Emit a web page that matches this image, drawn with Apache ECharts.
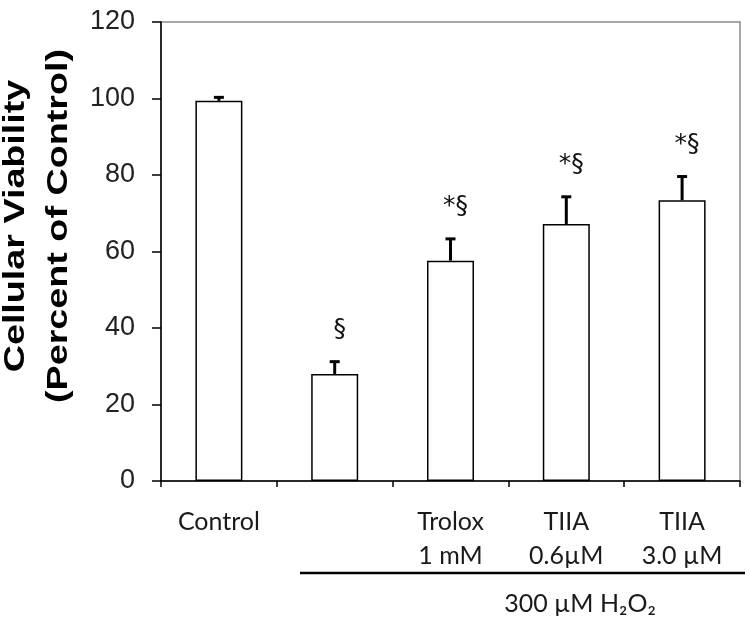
<!DOCTYPE html>
<html>
<head>
<meta charset="utf-8">
<script src="https://cdn.jsdelivr.net/npm/echarts@6/dist/echarts.min.js"></script>
<style>
  html, body { margin: 0; padding: 0; background: #fff; }
  #chart { width: 750px; height: 624px; }
</style>
</head>
<body>
<div id="chart"></div>
<script>
// dati
const categories = ['Control', '', 'Trolox\n1 mM', 'TIIA\n0.6µM', 'TIIA\n3.0 µM'];
const viability = [99.4, 28.0, 57.6, 67.2, 73.4];
const sem = [0.9, 3.2, 5.7, 7.1, 6.2];
const marks = ['', '§', '*§', '*§', '*§'];
const yMin = 0;
const yMax = 120;
const yStep = 20;

const chart = echarts.init(document.getElementById('chart'));

// barra d'errore (solo verso l'alto) + simbolo di significatività
function renderErr(params, api) {
  const i = params.dataIndex;
  const base = api.coord([i, viability[i]]);
  const top = api.coord([i, viability[i] + sem[i]]);
  const cap = 5;
  return {
    type: 'group',
    children: [
      { type: 'line', shape: { x1: base[0], y1: base[1], x2: top[0], y2: top[1] }, style: { stroke: '#000', lineWidth: 3 } },
      { type: 'line', shape: { x1: top[0] - cap, y1: top[1], x2: top[0] + cap, y2: top[1] }, style: { stroke: '#000', lineWidth: 3 } },
      {
        type: 'text',
        x: top[0] + 5,
        y: top[1] - 32,
        style: { text: marks[i], fontSize: 25, fontFamily: 'DejaVu Sans', fill: '#111', align: 'center', verticalAlign: 'middle' }
      }
    ]
  };
}

const option = {
  animation: false,
  grid: {
    left: 161,
    right: 10,
    top: 22,
    bottom: 143,
    show: true,
    borderColor: '#8a8a8a',
    borderWidth: 1.5
  },
  xAxis: {
    type: 'category',
    data: categories,
    axisLine: { lineStyle: { color: '#000', width: 1.5 } },
    axisTick: { show: true, inside: false, length: 6, lineStyle: { color: '#000', width: 1.5 } },
    axisLabel: {
      margin: 24,
      fontSize: 25,
      fontFamily: 'Lato',
      color: '#1a1a1a',
      lineHeight: 34,
      interval: 0
    }
  },
  yAxis: {
    type: 'value',
    min: yMin,
    max: yMax,
    interval: yStep,
    splitLine: { show: false },
    axisLine: { show: true, lineStyle: { color: '#000', width: 1.5 } },
    axisTick: { show: true, length: 9, lineStyle: { color: '#000', width: 1.5 } },
    axisLabel: {
      margin: 26,
      fontSize: 27,
      fontFamily: 'Liberation Sans',
      color: '#222'
    }
  },
  series: [
    {
      type: 'bar',
      data: viability,
      barWidth: 47,
      itemStyle: { color: '#fff', borderColor: '#000', borderWidth: 1.5 }
    },
    {
      type: 'custom',
      data: viability.map((v, i) => [i, v, sem[i]]),
      encode: { x: 0, y: 1 },
      renderItem: renderErr,
      z: 5
    }
  ],
  graphic: [
    {
      type: 'group',
      x: 0,
      y: 226,
      rotation: Math.PI / 2,
      scaleX: 1.3,
      children: [
        {
          type: 'text',
          x: 0,
          y: 16,
          style: { text: 'Cellular Viability', fontSize: 29, fontWeight: 'bold', fontFamily: 'Liberation Sans', fill: '#000', align: 'center', verticalAlign: 'middle' }
        },
        {
          type: 'text',
          x: 0,
          y: 59,
          style: { text: '(Percent of Control)', fontSize: 29, fontWeight: 'bold', fontFamily: 'Liberation Sans', fill: '#000', align: 'center', verticalAlign: 'middle' }
        }
      ]
    },
    {
      type: 'line',
      shape: { x1: 300, y1: 573, x2: 745, y2: 573 },
      style: { stroke: '#000', lineWidth: 2.5 }
    },
    {
      type: 'text',
      x: 580,
      y: 604,
      style: { text: '300 µM H₂O₂', fontSize: 25, fontFamily: 'Lato', fill: '#1a1a1a', align: 'center', verticalAlign: 'middle' }
    }
  ]
};

chart.setOption(option);
</script>
</body>
</html>
